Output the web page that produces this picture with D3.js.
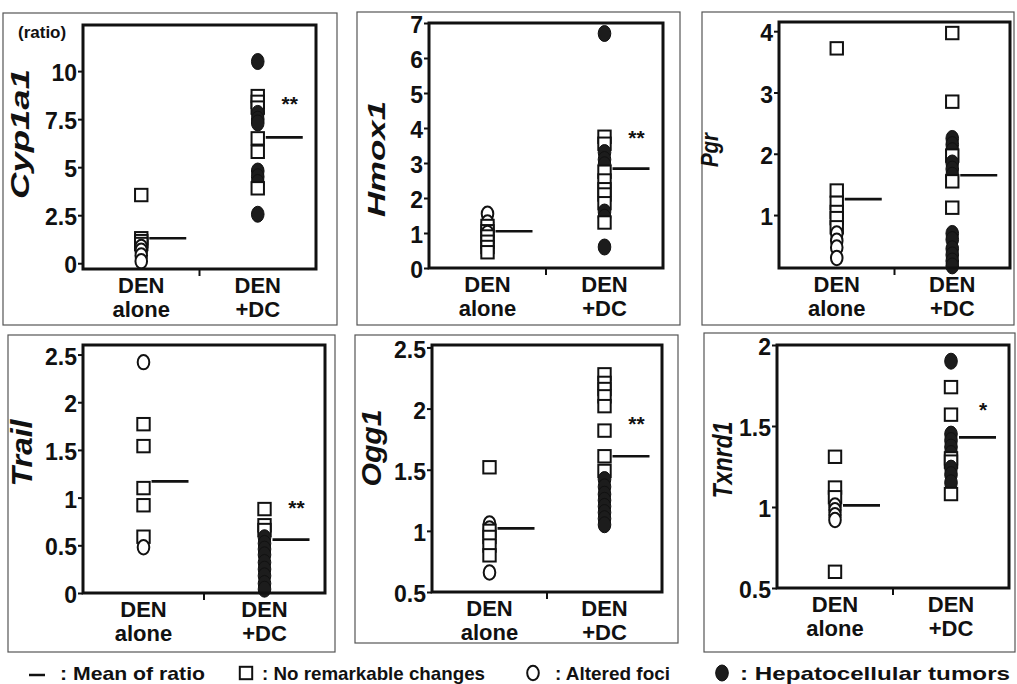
<!DOCTYPE html>
<meta charset="utf-8">
<html>
<head>
<title>DEN alone vs DEN+DC ratios</title>
<style>
  body { margin: 0; background: #fff; }
  text { font-family: "Liberation Sans", Arial, sans-serif; }
</style>
</head>
<body>
<div id="fig"></div>
<script src="https://d3js.org/d3.v7.min.js"></script>
<script>

var groups = ["alone", "+DC"];
var genes = ["Cyp1a1", "Hmox1", "Pgr", "Trail", "Ogg1", "Txnrd1"];

// each point: [group, kind, ratio]
// kind: sq = no remarkable changes, ci = altered foci, tu = hepatocellular tumor
var cyp1a1Points = [
  ["alone","sq",3.55], ["alone","sq",1.3], ["alone","sq",1.15], ["alone","sq",1.0],
  ["alone","ci",0.85], ["alone","ci",0.65], ["alone","ci",0.4], ["alone","ci",0.1],
  ["+DC","tu",10.5], ["+DC","sq",8.7], ["+DC","sq",8.4], ["+DC","sq",8.1],
  ["+DC","tu",7.8], ["+DC","tu",7.5], ["+DC","tu",7.3], ["+DC","sq",6.5], ["+DC","sq",5.8],
  ["+DC","tu",4.8], ["+DC","tu",4.5], ["+DC","tu",4.2], ["+DC","sq",3.9], ["+DC","tu",2.55]
];
var hmox1Points = [
  ["alone","ci",1.55], ["alone","ci",1.3], ["alone","sq",1.2], ["alone","sq",1.05],
  ["alone","ci",1.0], ["alone","sq",0.9], ["alone","sq",0.75], ["alone","sq",0.6], ["alone","sq",0.45],
  ["+DC","tu",6.7], ["+DC","sq",3.75], ["+DC","sq",3.55], ["+DC","tu",3.3], ["+DC","tu",3.1],
  ["+DC","tu",2.95], ["+DC","sq",2.75], ["+DC","sq",2.5], ["+DC","sq",2.25], ["+DC","sq",2.1],
  ["+DC","sq",1.85], ["+DC","tu",1.6], ["+DC","tu",1.45], ["+DC","sq",1.3], ["+DC","tu",0.6]
];
var pgrPoints = [
  ["alone","sq",3.72], ["alone","sq",1.4], ["alone","sq",1.2], ["alone","sq",1.05],
  ["alone","sq",0.95], ["alone","sq",0.8], ["alone","ci",0.7], ["alone","ci",0.58],
  ["alone","ci",0.47], ["alone","ci",0.3],
  ["+DC","sq",3.97], ["+DC","sq",2.85], ["+DC","tu",2.25], ["+DC","tu",2.15], ["+DC","tu",2.05],
  ["+DC","sq",1.97], ["+DC","tu",1.85], ["+DC","tu",1.75], ["+DC","tu",1.65], ["+DC","sq",1.55],
  ["+DC","sq",1.12], ["+DC","tu",0.7], ["+DC","tu",0.6], ["+DC","tu",0.45], ["+DC","tu",0.35],
  ["+DC","tu",0.25], ["+DC","tu",0.17]
];
var trailPoints = [
  ["alone","ci",2.42], ["alone","sq",1.77], ["alone","sq",1.54], ["alone","sq",1.1],
  ["alone","sq",0.92], ["alone","sq",0.59], ["alone","ci",0.48],
  ["+DC","sq",0.88], ["+DC","sq",0.71], ["+DC","sq",0.66], ["+DC","tu",0.58], ["+DC","tu",0.52],
  ["+DC","tu",0.46], ["+DC","tu",0.4], ["+DC","tu",0.32], ["+DC","tu",0.25], ["+DC","tu",0.18],
  ["+DC","tu",0.1], ["+DC","tu",0.04]
];
var ogg1Points = [
  ["alone","sq",1.52], ["alone","ci",1.06], ["alone","ci",1.02], ["alone","sq",1.0],
  ["alone","sq",0.95], ["alone","sq",0.88], ["alone","sq",0.8], ["alone","ci",0.66],
  ["+DC","sq",2.28], ["+DC","sq",2.21], ["+DC","sq",2.16], ["+DC","sq",2.1], ["+DC","sq",2.02],
  ["+DC","sq",1.82], ["+DC","sq",1.61], ["+DC","sq",1.49], ["+DC","tu",1.42], ["+DC","tu",1.36],
  ["+DC","tu",1.3], ["+DC","tu",1.25], ["+DC","tu",1.2], ["+DC","tu",1.15], ["+DC","tu",1.1],
  ["+DC","tu",1.05]
];
var txnrd1Points = [
  ["alone","sq",1.31], ["alone","sq",1.12], ["alone","sq",1.06], ["alone","ci",1.01],
  ["alone","ci",0.98], ["alone","ci",0.95], ["alone","ci",0.92], ["alone","sq",0.6],
  ["+DC","tu",1.9], ["+DC","sq",1.74], ["+DC","sq",1.57], ["+DC","tu",1.45], ["+DC","tu",1.41],
  ["+DC","tu",1.37], ["+DC","tu",1.33], ["+DC","sq",1.3], ["+DC","sq",1.28], ["+DC","tu",1.24],
  ["+DC","tu",1.2], ["+DC","tu",1.15], ["+DC","sq",1.08]
];
var allPoints = [cyp1a1Points, hmox1Points, pgrPoints, trailPoints, ogg1Points, txnrd1Points];

// mean ratio for [alone, +DC]
var meanRatios = [[1.3, 6.55], [1.05, 2.84], [1.26, 1.65], [1.17, 0.56], [1.02, 1.61], [1.01, 1.43]];
var signif = ["**", "**", "", "**", "**", "*"];
var signifAt = [8.4, 3.76, 0, 0.91, 1.89, 1.61];

var yDomains = [[-0.3, 12.4], [0, 7], [0.136, 4.15], [0, 2.6], [0.5, 2.52], [0.5, 2]];
var yTicks = [[0, 2.5, 5, 7.5, 10], [0, 1, 2, 3, 4, 5, 6, 7], [1, 2, 3, 4],
              [0, 0.5, 1, 1.5, 2, 2.5], [0.5, 1, 1.5, 2, 2.5], [0.5, 1, 1.5, 2]];

var legendLabels = [": Mean of ratio", ": No remarkable changes", ": Altered foci", ": Hepatocellular tumors"];
var legendKinds = ["mean", "sq", "ci", "tu"];

// panel placement on the page (outer box, inner plot box, gene title)
var layout = [
  {outer: [3, 13, 337, 325],   inner: [83, 25, 316, 269],   tx: 29,  ty: 134, ts: 25, tl: 130},
  {outer: [357, 12, 680, 325], inner: [429, 23, 663, 268],  tx: 385, ty: 159, ts: 24, tl: 116},
  {outer: [702, 12, 1014, 325],inner: [779, 22, 1010, 268], tx: 718, ty: 150, ts: 23, tl: 34},
  {outer: [8, 335, 335, 652],  inner: [83, 345, 325, 593],  tx: 32,  ty: 453, ts: 29, tl: 67},
  {outer: [355, 335, 678, 643],inner: [432, 345, 662, 592], tx: 381, ty: 448, ts: 27, tl: 77},
  {outer: [704, 333, 1015, 652],inner: [777, 345, 1009, 588], tx: 732, ty: 460, ts: 27, tl: 77}
];

var W = 1017, H = 684;
var svg = d3.select("#fig").append("svg")
  .attr("width", W).attr("height", H);

function drawMarker(sel, kind) {
  if (kind == "sq") {
    sel.append("rect")
      .attr("x", -6.2).attr("y", -6.2).attr("width", 12.4).attr("height", 12.4)
      .attr("fill", "#fff").attr("stroke", "#111").attr("stroke-width", 2);
  } else if (kind == "ci") {
    sel.append("ellipse")
      .attr("rx", 5.8).attr("ry", 7.2)
      .attr("fill", "#fff").attr("stroke", "#111").attr("stroke-width", 2);
  } else {
    sel.append("ellipse")
      .attr("rx", 6.3).attr("ry", 8)
      .attr("fill", "#1c1c1c").attr("stroke", "#111").attr("stroke-width", 1);
  }
}

genes.forEach(function(gene, i) {
  var L = layout[i];
  var ox = L.outer, ib = L.inner;
  var w = ib[2] - ib[0], h = ib[3] - ib[1];

  svg.append("rect")
    .attr("x", ox[0]).attr("y", ox[1])
    .attr("width", ox[2] - ox[0]).attr("height", ox[3] - ox[1])
    .attr("fill", "none").attr("stroke", "#555").attr("stroke-width", 1.2);

  var g = svg.append("g").attr("transform", "translate(" + ib[0] + "," + ib[1] + ")");

  var x = d3.scalePoint().domain(groups).range([0, w]).padding(0.5);
  var y = d3.scaleLinear().domain(yDomains[i]).range([h, 0]);

  // y axis
  var ya = g.append("g")
    .call(d3.axisLeft(y).tickValues(yTicks[i]).tickSize(5).tickPadding(1)
      .tickFormat(function(d) { return String(d); }));
  ya.select(".domain").remove();
  ya.selectAll("line").attr("stroke", "#111").attr("stroke-width", 2);
  ya.selectAll("text")
    .attr("dy", "0.42em")
    .style("font-size", "23px").style("font-weight", "bold").attr("fill", "#111");

  // small tick between groups
  g.append("line")
    .attr("x1", w / 2).attr("x2", w / 2).attr("y1", h).attr("y2", h + 7)
    .attr("stroke", "#111").attr("stroke-width", 2);

  // x labels
  groups.forEach(function(grp) {
    var t = g.append("text")
      .attr("x", x(grp)).attr("y", h + 24)
      .attr("text-anchor", "middle")
      .style("font-size", "22px").style("font-weight", "bold").attr("fill", "#111");
    t.append("tspan").attr("x", x(grp)).text("DEN");
    t.append("tspan").attr("x", x(grp)).attr("dy", 24).text(grp);
  });

  // points, drawn from high to low so lower marks overlap upper ones
  var pts = allPoints[i].slice().sort(function(a, b) { return b[2] - a[2]; });
  pts.forEach(function(p) {
    var m = g.append("g")
      .attr("transform", "translate(" + x(p[0]) + "," + y(p[2]) + ")");
    drawMarker(m, p[1]);
  });

  // mean lines
  groups.forEach(function(grp, k) {
    g.append("line")
      .attr("x1", x(grp) + 8).attr("x2", x(grp) + 45)
      .attr("y1", y(meanRatios[i][k])).attr("y2", y(meanRatios[i][k]))
      .attr("stroke", "#111").attr("stroke-width", 2.6);
  });

  // significance stars
  if (signif[i]) {
    g.append("text")
      .attr("x", x("+DC") + 32).attr("y", y(signifAt[i]) + 9)
      .attr("text-anchor", "middle")
      .style("font-size", "21px").style("font-weight", "bold").attr("fill", "#111")
      .text(signif[i]);
  }

  // plot frame
  g.append("rect")
    .attr("x", 0).attr("y", 0).attr("width", w).attr("height", h)
    .attr("fill", "none").attr("stroke", "#111").attr("stroke-width", 3);

  // gene title
  svg.append("text")
    .attr("transform", "translate(" + L.tx + "," + L.ty + ") rotate(-90)")
    .attr("text-anchor", "middle")
    .attr("textLength", L.tl).attr("lengthAdjust", "spacingAndGlyphs")
    .style("font-size", L.ts + "px").style("font-style", "italic").style("font-weight", "bold")
    .attr("fill", "#111")
    .text(gene);
});

svg.append("text")
  .attr("x", 18).attr("y", 38)
  .style("font-size", "17px").style("font-weight", "bold").attr("fill", "#111")
  .text("(ratio)");

// legend
var legSymX = [37, 246, 533, 722];
var legTextX = [60, 262, 555, 740];
var legTextLen = [145, 223, 115, 270];
var legY = 673;
legendKinds.forEach(function(kind, k) {
  var s = svg.append("g").attr("transform", "translate(" + legSymX[k] + "," + legY + ")");
  if (kind == "mean") {
    s.append("line").attr("x1", -8).attr("x2", 8).attr("y1", 2).attr("y2", 2)
      .attr("stroke", "#111").attr("stroke-width", 2.5);
  } else {
    drawMarker(s, kind);
  }
  svg.append("text")
    .attr("x", legTextX[k]).attr("y", legY + 7)
    .attr("textLength", legTextLen[k]).attr("lengthAdjust", "spacingAndGlyphs")
    .style("font-size", "19px").style("font-weight", "bold").attr("fill", "#111")
    .text(legendLabels[k]);
});

</script>
</body>
</html>
